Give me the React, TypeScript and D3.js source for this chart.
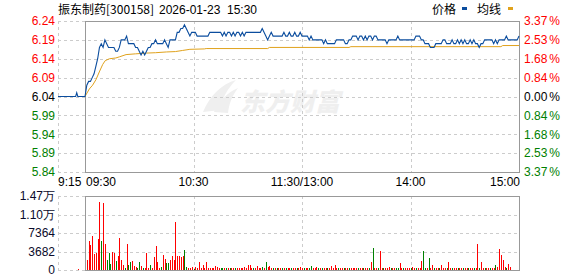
import React from "react";
import * as d3 from "d3";

const W = 578;
const H = 276;

// ---- data ----
const titleName = "振东制药[300158]";
const titleDate = "2026-01-23";
const titleTime = "15:30";
const legendLabels = ["价格", "均线"];

const priceTicks = [6.24, 6.19, 6.14, 6.09, 6.04, 5.99, 5.94, 5.89, 5.84];
const pctLabels = ["3.37", "2.53", "1.68", "0.84", "0.00", "0.84", "1.68", "2.53", "3.37"];
const preClose = 6.04;
const volTicks = [14728, 11046, 7364, 3682, 0];
const volTickLabels = ["1.47万", "1.10万", "7364", "3682", "0"];
const timeTicks = [-15, 0, 60, 120, 180, 240];
const timeLabels = ["9:15", "09:30", "10:30", "11:30/13:00", "14:00", "15:00"];

// pre-market auction line: [minute, price]
const preMarket: [number, number][] = [
  [-15, 6.04], [-5.2, 6.04], [-4.6, 6.05], [-4.0, 6.04], [0, 6.04],
];
const preMarketVol: [number, number][] = [[-4, 150]];

// per-minute price 09:30..15:00 (241 points)
const prices = [
  6.04, 6.07, 6.08, 6.08, 6.09, 6.10, 6.12, 6.14, 6.17, 6.18,
  6.17, 6.19, 6.18, 6.17, 6.17, 6.17, 6.17, 6.16, 6.16, 6.17,
  6.19, 6.19, 6.19, 6.20, 6.18, 6.18, 6.18, 6.18, 6.17, 6.17,
  6.16, 6.15, 6.16, 6.15, 6.16, 6.17, 6.17, 6.18, 6.18, 6.19,
  6.18, 6.18, 6.18, 6.18, 6.19, 6.18, 6.17, 6.19, 6.19, 6.19,
  6.19, 6.21, 6.21, 6.22, 6.22, 6.23, 6.22, 6.21, 6.20, 6.21,
  6.21, 6.21, 6.20, 6.20, 6.20, 6.20, 6.20, 6.20, 6.20, 6.21,
  6.21, 6.21, 6.21, 6.21, 6.21, 6.21, 6.20, 6.21, 6.20, 6.21,
  6.21, 6.20, 6.21, 6.20, 6.21, 6.21, 6.20, 6.21, 6.20, 6.21,
  6.21, 6.21, 6.21, 6.21, 6.21, 6.21, 6.21, 6.21, 6.22, 6.21,
  6.20, 6.19, 6.20, 6.21, 6.20, 6.20, 6.20, 6.20, 6.20, 6.20,
  6.21, 6.20, 6.20, 6.21, 6.20, 6.20, 6.21, 6.20, 6.20, 6.21,
  6.20, 6.20, 6.20, 6.20, 6.19, 6.20, 6.19, 6.19, 6.19, 6.19,
  6.19, 6.19, 6.18, 6.19, 6.18, 6.18, 6.18, 6.18, 6.18, 6.19,
  6.19, 6.19, 6.19, 6.19, 6.18, 6.18, 6.19, 6.19, 6.20, 6.20,
  6.20, 6.19, 6.20, 6.20, 6.19, 6.20, 6.19, 6.20, 6.20, 6.19,
  6.20, 6.20, 6.19, 6.19, 6.19, 6.19, 6.19, 6.18, 6.19, 6.19,
  6.19, 6.19, 6.19, 6.20, 6.19, 6.19, 6.19, 6.19, 6.19, 6.19,
  6.19, 6.19, 6.19, 6.20, 6.20, 6.20, 6.19, 6.19, 6.18, 6.18,
  6.18, 6.17, 6.17, 6.17, 6.18, 6.18, 6.18, 6.18, 6.19, 6.19,
  6.18, 6.18, 6.18, 6.19, 6.18, 6.18, 6.19, 6.18, 6.19, 6.18,
  6.19, 6.18, 6.18, 6.19, 6.18, 6.19, 6.18, 6.18, 6.17, 6.18,
  6.18, 6.19, 6.19, 6.19, 6.19, 6.19, 6.18, 6.19, 6.18, 6.19,
  6.19, 6.19, 6.19, 6.20, 6.19, 6.19, 6.19, 6.19, 6.19, 6.19, 6.20,
];

// average price line: [minute, price]
const avgLine: [number, number][] = [
  [0, 6.04], [2.4, 6.06], [4.2, 6.07], [6.1, 6.085], [7.9, 6.105], [9.8, 6.125],
  [11.2, 6.135], [13.5, 6.14], [17, 6.142], [19, 6.145], [22.7, 6.151], [28, 6.153],
  [34, 6.155], [39, 6.156], [45, 6.158], [50, 6.159], [54, 6.162], [58, 6.165],
  [66, 6.166], [67, 6.167], [101, 6.167], [102, 6.17], [146, 6.17], [147, 6.172],
  [230, 6.172], [231, 6.175], [240, 6.175],
];

// per-minute volume (shares)
const volumes = [
  0, 2000, 5770, 4980, 6770, 3180, 3450, 6100, 13530, 5770,
  13400, 5170, 2000, 3450, 1190, 3650, 3450, 1790, 2790, 6300,
  2000, 1000, 400, 5170, 1000, 1650, 1790, 800, 530, 300,
  1590, 800, 400, 300, 3450, 400, 1000, 300, 2520, 4780,
  1650, 400, 500, 2980, 2190, 1460, 1460, 2000, 2790, 2000,
  9550, 2790, 2790, 2520, 2790, 3980, 530, 400, 400, 500,
  250, 500, 400, 1650, 300, 1000, 300, 1650, 300, 300,
  300, 300, 800, 500, 300, 300, 300, 300, 300, 300,
  300, 300, 300, 300, 300, 300, 300, 300, 500, 300,
  1000, 1000, 300, 300, 300, 800, 300, 300, 500, 300,
  1590, 600, 860, 300, 300, 300, 300, 300, 300, 300,
  300, 300, 300, 300, 300, 300, 300, 300, 300, 500,
  300, 300, 300, 300, 300, 800, 300, 300, 500, 300,
  300, 300, 300, 300, 300, 300, 800, 300, 1000, 300,
  300, 300, 300, 300, 300, 400, 300, 300, 300, 300,
  400, 300, 300, 300, 300, 300, 300, 300, 1650, 4380,
  300, 300, 300, 3850, 300, 300, 300, 300, 500, 300,
  300, 300, 300, 300, 1390, 300, 300, 300, 300, 400,
  300, 500, 300, 300, 300, 300, 1790, 3850, 300, 300,
  2390, 300, 1000, 300, 300, 300, 300, 1000, 300, 300,
  300, 1590, 300, 300, 300, 300, 300, 300, 300, 300,
  300, 300, 300, 300, 300, 300, 300, 5170, 300, 1590,
  300, 300, 300, 300, 300, 300, 300, 1000, 500, 4180,
  2980, 2000, 500, 300, 1190, 500, 0, 0, 0, 0, 2590,
];
const volDirs =
  "rrrrrrrrrg" + "rrgggrrgrr" + "rrgrggrrrg" + "grgrrrgrrr" + "rrgrrggrrr" +
  "rrrrrggrrr" + "grrrrrrrrr" + "rrrrrggrgr" + "grrgrrrrrr" + "rrrgrrrrgr" +
  "grrrgrgrrg" + "rgrrgrrgrr" + "rgrrggrrrg" + "rgrrgrrrrr" + "grrgrrgrrr" +
  "rgrrgrrgrg" + "rrgrrgrrrg" + "rrggrrgrrr" + "grrgrrrggr" + "grrgrrgrrr" +
  "grrgrrgrrg" + "rrgrrgrrgr" + "rgrrgrrgrr" + "rrrgrrrrrrr";

// ---- styles ----
const FONT = "'Liberation Sans', Arial, sans-serif";
const CJK = "'Noto Sans CJK SC', 'Liberation Sans', sans-serif";
const RED = "#ff0000";
const GREEN = "#008000";
const BLUE = "#0b4d9e";
const ORANGE = "#e0a21c";
const GRID = "#cccccc";
const BORDER = "#999999";

export default function App() {
  const xL = 58, x0 = 85, x1 = 519;
  const pTop = 21, pBot = 172;
  const vTop = 196, vBot = 270;

  const x = d3.scaleLinear().domain([-15, 0, 240]).range([xL, x0, x1]);
  const y = d3.scaleLinear().domain([5.84, 6.24]).range([pBot, pTop]);
  const yv = d3.scaleLinear().domain([0, 14728]).range([vBot, vTop]);

  const line = d3.line<[number, number]>().x((d) => x(d[0])).y((d) => y(d[1]));
  const pricePts: [number, number][] = prices.map((p, i) => [i, p]);
  const pricePath = line([...preMarket, ...pricePts.slice(1)]) || "";
  const avgPath = line(avgLine) || "";

  const vGridMinutes = [60, 120, 180];

  const colorFor = (v: number) =>
    Math.abs(v - preClose) < 1e-9 ? "#000000" : v > preClose ? RED : GREEN;

  return (
    <svg
      width={W}
      height={H}
      style={{ position: "absolute", left: 0, top: 0, background: "#fff" }}
    >
      <rect x={0} y={0} width={W} height={H} fill="#fff" />

      {/* watermark */}
      <g>
        <path
          d="M203,112 C210,95 222,84 236,80 C228,88 222,98 220,110 Z M214,112 C220,100 228,92 238,88 C232,96 229,104 228,113 Z"
          fill="#efefef"
        />
        <text
          x={240}
          y={111}
          fontFamily={CJK}
          fontWeight={900}
          fontStyle="italic"
          fontSize={25}
          fill="#efefef"
        >
          东方财富
        </text>
      </g>

      {/* title */}
      <text x={58} y={14} fontFamily={CJK} fontSize={12} fill="#000">
        {titleName}
      </text>
      <text x={159} y={14} fontFamily={FONT} fontSize={12} fill="#000">
        {titleDate}
      </text>
      <text x={227} y={14} fontFamily={FONT} fontSize={12} fill="#000">
        {titleTime}
      </text>

      {/* legend */}
      <text x={432} y={14} fontFamily={CJK} fontSize={12} fill="#000">
        {legendLabels[0]}
      </text>
      <rect x={462} y={7} width={5} height={3} fill={BLUE} />
      <text x={477} y={14} fontFamily={CJK} fontSize={12} fill="#000">
        {legendLabels[1]}
      </text>
      <rect x={508} y={7} width={5} height={3} fill={ORANGE} />

      {/* price grid */}
      <g shapeRendering="crispEdges">
        {priceTicks.map((t, i) => (
          <line
            key={"pg" + i}
            x1={xL}
            x2={i === 0 || i === priceTicks.length - 1 ? x0 : x1}
            y1={Math.round(y(t)) + 0.5}
            y2={Math.round(y(t)) + 0.5}
            stroke={GRID}
            strokeDasharray="3,3"
          />
        ))}
        <line x1={xL + 0.5} x2={xL + 0.5} y1={pTop} y2={pBot} stroke={GRID} strokeDasharray="3,3" />
        {vGridMinutes.map((m) => (
          <line
            key={"pv" + m}
            x1={Math.round(x(m)) + 0.5}
            x2={Math.round(x(m)) + 0.5}
            y1={pTop}
            y2={pBot}
            stroke={GRID}
            strokeDasharray="3,3"
          />
        ))}
        <rect
          x={x0 + 0.5}
          y={pTop + 0.5}
          width={x1 - x0}
          height={pBot - pTop}
          fill="none"
          stroke={BORDER}
        />
      </g>

      {/* lines */}
      <path d={avgPath} fill="none" stroke={ORANGE} strokeWidth={1} />
      <path d={pricePath} fill="none" stroke={BLUE} strokeWidth={1.1} />

      {/* left price labels */}
      {priceTicks.map((t, i) => (
        <text
          key={"pl" + i}
          x={55}
          y={y(t)}
          dy="0.36em"
          textAnchor="end"
          fontFamily={FONT}
          fontSize={12}
          fill={colorFor(t)}
        >
          {t.toFixed(2)}
        </text>
      ))}
      {/* right pct labels */}
      {priceTicks.map((t, i) => (
        <text
          key={"pr" + i}
          x={524}
          y={y(t)}
          dy="0.36em"
          textAnchor="start"
          fontFamily={FONT}
          fontSize={12}
          fill={colorFor(t)}
        >
          {pctLabels[i]}
          <tspan dx={2}>%</tspan>
        </text>
      ))}

      {/* time labels */}
      {timeTicks.map((m, i) => (
        <text
          key={"tl" + i}
          x={i === 0 ? xL : i === 1 ? x0 + 1 : i === timeTicks.length - 1 ? x1 + 1 : x(m)}
          y={186}
          textAnchor={i <= 1 ? "start" : i === timeTicks.length - 1 ? "end" : "middle"}
          fontFamily={FONT}
          fontSize={12}
          fill="#000"
        >
          {timeLabels[i]}
        </text>
      ))}

      {/* volume grid */}
      <g shapeRendering="crispEdges">
        {volTicks.map((t, i) => (
          <line
            key={"vg" + i}
            x1={xL}
            x2={i === 0 || i === volTicks.length - 1 ? x0 : x1}
            y1={Math.round(yv(t)) + 0.5}
            y2={Math.round(yv(t)) + 0.5}
            stroke={GRID}
            strokeDasharray="3,3"
          />
        ))}
        <line x1={xL + 0.5} x2={xL + 0.5} y1={vTop} y2={vBot} stroke={GRID} strokeDasharray="3,3" />
        {vGridMinutes.map((m) => (
          <line
            key={"vv" + m}
            x1={Math.round(x(m)) + 0.5}
            x2={Math.round(x(m)) + 0.5}
            y1={vTop}
            y2={vBot}
            stroke={GRID}
            strokeDasharray="3,3"
          />
        ))}
        {/* volume bars */}
        {[...preMarketVol.map(([m, v]) => ({ m, v, d: "r" })),
          ...volumes.map((v, i) => ({ m: i, v, d: volDirs[i] }))]
          .filter((b) => b.v > 0)
          .map((b, k) => {
            const top = Math.min(Math.round(yv(b.v)), vBot - 1);
            return (
              <rect
                key={"vb" + k}
                x={Math.round(x(b.m))}
                y={top}
                width={1}
                height={vBot - top}
                fill={b.d === "g" ? GREEN : RED}
              />
            );
          })}
        <rect
          x={x0 + 0.5}
          y={vTop + 0.5}
          width={x1 - x0}
          height={vBot - vTop}
          fill="none"
          stroke={BORDER}
        />
      </g>

      {/* volume labels */}
      {volTicks.map((t, i) => (
        <text
          key={"vl" + i}
          x={55}
          y={yv(t)}
          dy="0.36em"
          textAnchor="end"
          fontFamily={FONT}
          fontSize={12}
          fill="#0a0a2a"
        >
          {volTickLabels[i]}
        </text>
      ))}
    </svg>
  );
}
